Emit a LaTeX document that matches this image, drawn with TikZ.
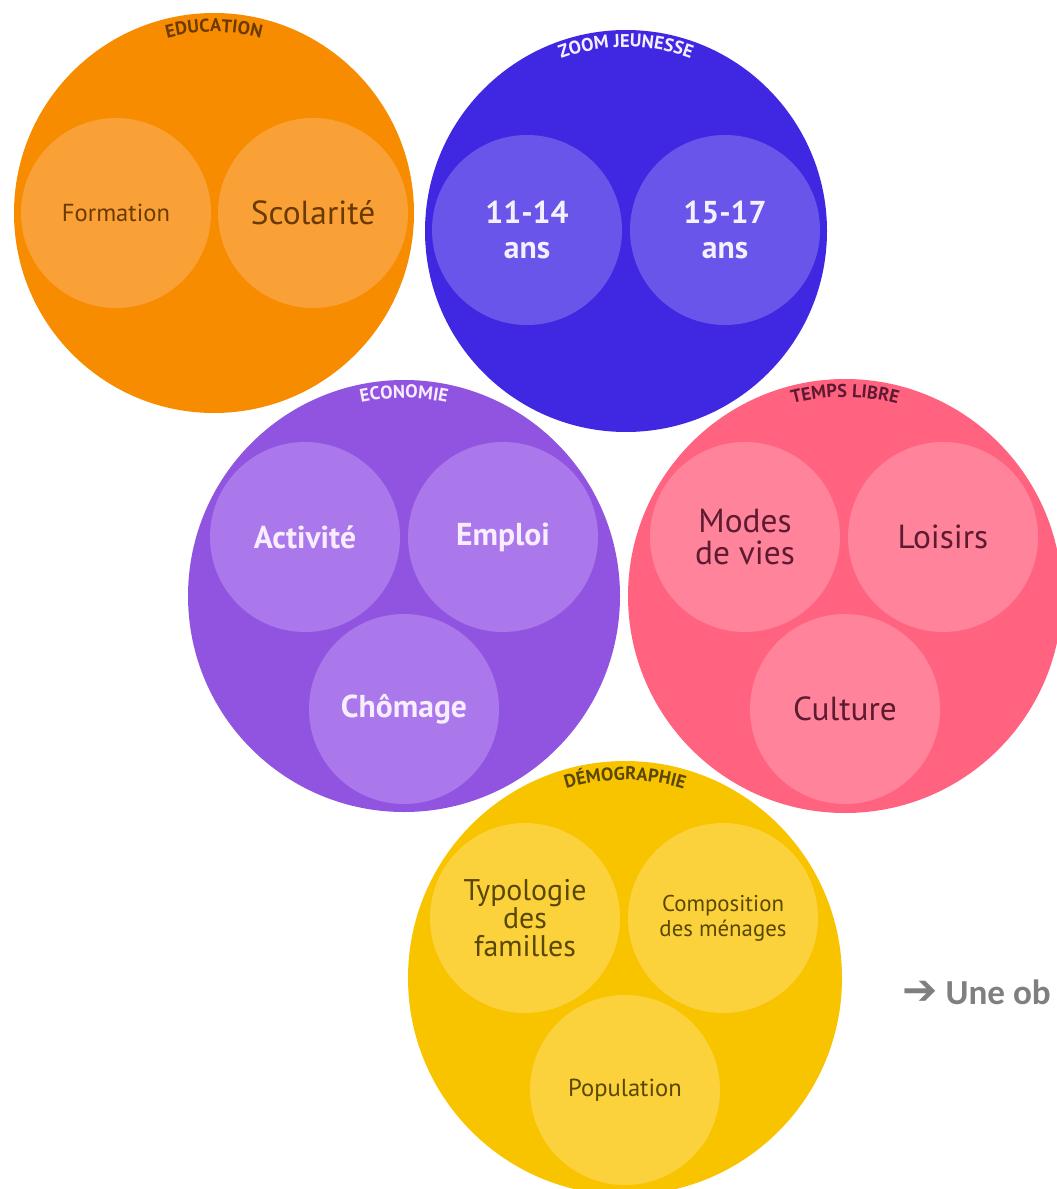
\documentclass[tikz,border=0pt]{standalone}
\usepackage{fontspec}
\setmainfont{PT Sans}
\newfontfamily\arrowfont{DejaVu Sans}
\newfontfamily\notefont{Carlito}
\usepackage{tikz}
\usetikzlibrary{decorations.text}
\definecolor{eduouter}{HTML}{F78C00}
\definecolor{eduinner}{HTML}{F9A136}
\definecolor{edutext}{HTML}{6B3A00}
\definecolor{zoomouter}{HTML}{4028E2}
\definecolor{zoominner}{HTML}{6955E9}
\definecolor{zoomtext}{HTML}{F4F0FF}
\definecolor{ecoouter}{HTML}{9154E0}
\definecolor{ecoinner}{HTML}{AA78EB}
\definecolor{ecotext}{HTML}{F8ECFF}
\definecolor{libreouter}{HTML}{FF6380}
\definecolor{libreinner}{HTML}{FF849B}
\definecolor{libretext}{HTML}{5E1A30}
\definecolor{demoouter}{HTML}{F8C400}
\definecolor{demoinner}{HTML}{FBD23C}
\definecolor{demotext}{HTML}{5A4700}
\definecolor{notegray}{HTML}{7F7F7F}
\newcommand\titlefont{\bfseries\fontsize{10.5}{12}\selectfont}
\tikzset{lbl/.style={align=center, inner sep=0pt, font=\fontsize{19}{21}\selectfont}}
\tikzset{lblbold/.style={lbl, font=\bfseries\fontsize{18}{22}\selectfont}}

\begin{document}
\begin{tikzpicture}[x=0.02cm,y=0.02cm]
\useasboundingbox (0,0) rectangle (1056,-1189);

% EDUCATION
\fill[eduouter] (214,-213) circle (200);
\fill[eduinner] (116,-213) circle (95);
\fill[eduinner] (313,-213) circle (95);
\path[decorate, decoration={text along path, text={|\titlefont|EDUCATION}, text align=center, text color=edutext}] (214,-213) ++(125:181) arc[start angle=125, end angle=55, radius=181];
\node[lbl, text=edutext, font=\fontsize{14}{16}\selectfont] (formation) at (116,-213) {Formation};
\node[lbl, text=edutext] (scolarite) at (313,-213) {Scolarité};

% ZOOM JEUNESSE
\fill[zoomouter] (626,-231) circle (201);
\fill[zoominner] (527,-230) circle (95);
\fill[zoominner] (725,-230) circle (95);
\path[decorate, decoration={text along path, text={|\titlefont|ZOOM JEUNESSE}, text align=center, text color=zoomtext}] (626,-231) ++(125:184) arc[start angle=125, end angle=55, radius=184];
\node[lblbold, text=zoomtext] (jeunes) at (527,-230) {11-14\\[-2pt]ans};
\node[lblbold, text=zoomtext] (ados) at (725,-230) {15-17\\[-2pt]ans};

% ECONOMIE
\fill[ecoouter] (404,-596) circle (216);
\fill[ecoinner] (305,-537) circle (95);
\fill[ecoinner] (503,-537) circle (95);
\fill[ecoinner] (404,-709) circle (95);
\path[decorate, decoration={text along path, text={|\titlefont|ECONOMIE}, text align=center, text color=ecotext}] (404,-596) ++(125:198) arc[start angle=125, end angle=55, radius=198];
\node[lblbold, text=ecotext] (activite) at (305,-537) {Activité};
\node[lblbold, text=ecotext] (emploi) at (503,-537) {Emploi};
\node[lblbold, text=ecotext] (chomage) at (404,-709) {Chômage};

% TEMPS LIBRE
\fill[libreouter] (845,-596) circle (217);
\fill[libreinner] (745,-537) circle (95);
\fill[libreinner] (943,-537) circle (95);
\fill[libreinner] (845,-709) circle (95);
\path[decorate, decoration={text along path, text={|\titlefont|TEMPS LIBRE}, text align=center, text color=libretext}] (845,-596) ++(125:199) arc[start angle=125, end angle=55, radius=199];
\node[lbl, text=libretext] (modes) at (745,-537) {Modes\\[-3pt]de vies};
\node[lbl, text=libretext] (loisirs) at (943,-537) {Loisirs};
\node[lbl, text=libretext] (culture) at (845,-709) {Culture};

% DEMOGRAPHIE
\fill[demoouter] (625,-978) circle (217);
\fill[demoinner] (525,-918) circle (95);
\fill[demoinner] (723,-918) circle (95);
\fill[demoinner] (625,-1090) circle (95);
\path[decorate, decoration={text along path, text={|\titlefont|DÉMOGRAPHIE}, text align=center, text color=demotext}] (625,-978) ++(125:198) arc[start angle=125, end angle=55, radius=198];
\node[lbl, text=demotext, font=\fontsize{17}{19}\selectfont] (typologie) at (525,-918) {Typologie\\[-3pt]des\\[-3pt]familles};
\node[lbl, text=demotext, font=\fontsize{13}{14}\selectfont] (composition) at (723,-918) {Composition\\des ménages};
\node[lbl, text=demotext, font=\fontsize{14}{16}\selectfont] (population) at (625,-1090) {Population};

% note
\node[anchor=base west, inner sep=0pt, text=notegray, font=\notefont\bfseries\fontsize{20}{22}\selectfont] (note) at (902,-1004) {{\arrowfont\fontsize{24}{24}\selectfont ➔} Une ob};
\end{tikzpicture}
\end{document}
